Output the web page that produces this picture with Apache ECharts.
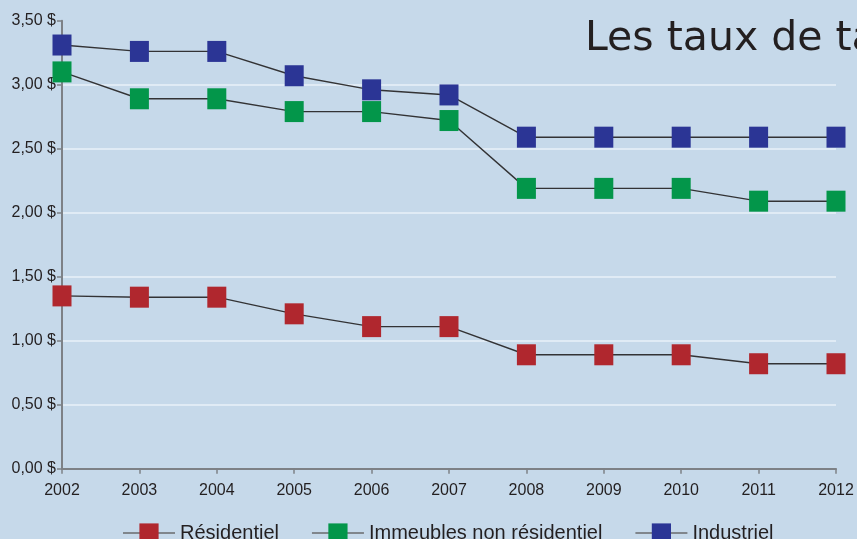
<!DOCTYPE html>
<html>
<head>
<meta charset="utf-8">
<script src="https://cdn.jsdelivr.net/npm/echarts@6/dist/echarts.min.js"></script>
<style>
  html, body { margin: 0; padding: 0; background: #c6d9ea; }
  #chart { width: 857px; height: 539px; }
</style>
</head>
<body>
<div id="chart"></div>
<script>
// données
var years = ['2002', '2003', '2004', '2005', '2006', '2007', '2008', '2009', '2010', '2011', '2012']
var residentiel = [1.35, 1.34, 1.34, 1.21, 1.11, 1.11, 0.89, 0.89, 0.89, 0.82, 0.82]
var nonResidentiel = [3.10, 2.89, 2.89, 2.79, 2.79, 2.72, 2.19, 2.19, 2.19, 2.09, 2.09]
var industriel = [3.31, 3.26, 3.26, 3.07, 2.96, 2.92, 2.59, 2.59, 2.59, 2.59, 2.59]
var seriesNames = ['Résidentiel', 'Immeubles non résidentiel', 'Industriel']
var titleText = 'Les taux de taxation'

var font = 'Liberation Sans, Arial, sans-serif'
var textColor = '#231f20'
var axisColor = '#7d8186'

function makeSeries (name, data, color) {
  return {
    name: name,
    type: 'line',
    data: data,
    symbol: 'rect',
    symbolSize: [19, 21],
    itemStyle: { color: color },
    lineStyle: { color: '#333335', width: 1.4 },
    emphasis: { disabled: true },
    silent: true
  }
}

var myChart = echarts.init(document.getElementById('chart'))

var option = {
  backgroundColor: '#c6d9ea',
  animation: false,
  title: {
    text: titleText,
    left: 580,
    top: 14,
    textStyle: {
      fontFamily: 'DejaVu Sans',
      fontSize: 41,
      fontWeight: 'normal',
      color: textColor
    }
  },
  grid: {
    left: 62,
    right: 21,
    top: 20.7,
    bottom: 70.3,
    outerBoundsMode: 'none'
  },
  legend: {
    left: 122,
    top: 523,
    padding: 0,
    itemWidth: 52,
    itemHeight: 24,
    itemGap: 32,
    data: seriesNames,
    lineStyle: { color: '#80868c', width: 2 },
    textStyle: {
      fontFamily: font,
      fontSize: 20,
      color: textColor
    }
  },
  xAxis: {
    type: 'category',
    data: years,
    boundaryGap: false,
    axisLine: { lineStyle: { color: axisColor, width: 2 } },
    axisTick: { show: true, length: 5, lineStyle: { color: axisColor, width: 1.5 } },
    axisLabel: {
      margin: 14,
      fontFamily: font,
      fontSize: 16,
      color: textColor
    },
    splitLine: { show: false }
  },
  yAxis: {
    type: 'value',
    min: 0,
    max: 3.5,
    interval: 0.5,
    axisLine: { show: true, lineStyle: { color: axisColor, width: 2 } },
    axisTick: { show: true, length: 5, lineStyle: { color: axisColor, width: 1.5 } },
    axisLabel: {
      margin: 6,
      fontFamily: font,
      fontSize: 16,
      color: textColor,
      formatter: function (v) {
        return v.toFixed(2).replace('.', ',') + ' $'
      }
    },
    splitLine: {
      show: true,
      showMaxLine: false,
      lineStyle: { color: '#e8f0f8', width: 1.5 }
    }
  },
  series: [
    makeSeries(seriesNames[0], residentiel, '#b0272e'),
    makeSeries(seriesNames[1], nonResidentiel, '#03964a'),
    makeSeries(seriesNames[2], industriel, '#2b3595')
  ]
}

myChart.setOption(option)
</script>
</body>
</html>
